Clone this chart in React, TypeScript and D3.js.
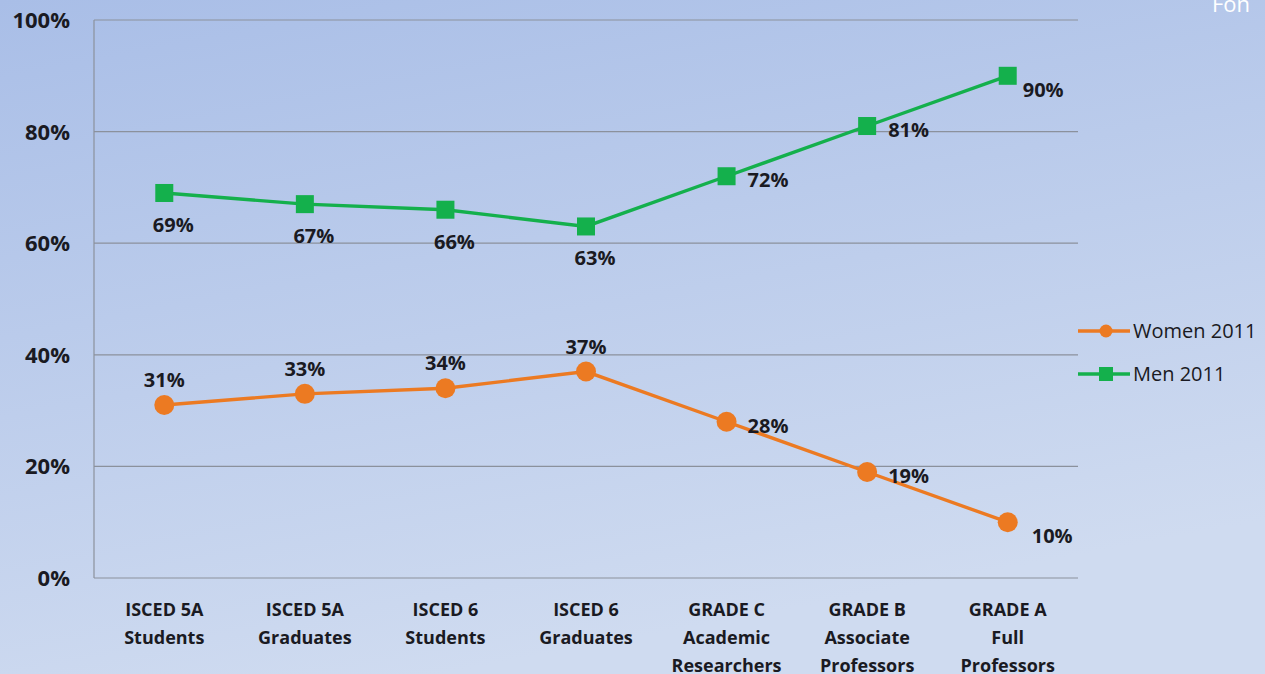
import React from "react";
import * as d3 from "d3";

const categories = [
  ["ISCED 5A", "Students"],
  ["ISCED 5A", "Graduates"],
  ["ISCED 6", "Students"],
  ["ISCED 6", "Graduates"],
  ["GRADE C", "Academic", "Researchers"],
  ["GRADE B", "Associate", "Professors"],
  ["GRADE A", "Full", "Professors"],
];
const women2011 = [31, 33, 34, 37, 28, 19, 10];
const men2011 = [69, 67, 66, 63, 72, 81, 90];
const yTicks = [0, 20, 40, 60, 80, 100];
// label placement per point
const womenLabelPos = ["above", "above", "above", "above", "right", "right", "rightBelowFar"];
const menLabelPos = ["below", "below", "below", "below", "right", "right", "rightBelow"];

const W = 1265, H = 674;
const ORANGE = "#ec7a22";
const GREEN = "#14b04c";
const FONT = "'Open Sans', 'Noto Sans', sans-serif";
const INK = "#1a1a22";

export default function App() {
  const x = d3.scaleBand<number>().domain(d3.range(categories.length)).range([94, 1078]);
  const y = d3.scaleLinear().domain([0, 100]).range([578, 20]);
  const cx = (i: number) => (x(i) as number) + x.bandwidth() / 2;
  const line = d3.line<number>().x((_, i) => cx(i)).y((v) => y(v));

  const labelXY = (pos: string, i: number, v: number) => {
    const px = cx(i), py = y(v);
    if (pos === "above") return { x: px, y: py - 18, anchor: "middle" };
    if (pos === "below") return { x: px + 9, y: py + 39, anchor: "middle" };
    if (pos === "right") return { x: px + 21, y: py + 11, anchor: "start" };
    if (pos === "rightBelow") return { x: px + 15, y: py + 21, anchor: "start" };
    return { x: px + 24, y: py + 21, anchor: "start" };
  };

  const renderLabels = (vals: number[], pos: string[]) =>
    vals.map((v, i) => {
      const p = labelXY(pos[i], i, v);
      return (
        <text key={i} x={p.x} y={p.y} textAnchor={p.anchor as any} fontFamily={FONT} fontWeight={700} fontSize={20} fill={INK}>
          {v}%
        </text>
      );
    });

  return (
    <svg width={W} height={H} style={{ position: "absolute", left: 0, top: 0 }}>
      <defs>
        <linearGradient id="bg" x1="0" y1="0" x2="0.35" y2="1">
          <stop offset="0%" stopColor="#a9bee7" />
          <stop offset="100%" stopColor="#cfdbf0" />
        </linearGradient>
      </defs>
      <rect x={0} y={0} width={W} height={H} fill="url(#bg)" />
      <text x={1212} y={12} fill="#ffffff" fontFamily={FONT} fontSize={22}>Fon</text>

      {yTicks.map((t) => (
        <g key={t}>
          <line x1={94} x2={1078} y1={y(t)} y2={y(t)} stroke="#8b919c" strokeWidth={1.2} />
          <text x={70} y={y(t) + 8} textAnchor="end" fontFamily={FONT} fontWeight={700} fontSize={22} fill={INK}>
            {t}%
          </text>
        </g>
      ))}
      <line x1={94} x2={94} y1={y(100)} y2={y(0)} stroke="#8b919c" strokeWidth={1.2} />

      {categories.map((lines, i) => (
        <text key={i} x={cx(i)} textAnchor="middle" fontFamily={FONT} fontWeight={700} fontSize={18} fill={INK}>
          {lines.map((l, j) => (
            <tspan key={j} x={cx(i)} y={616 + j * 28}>{l}</tspan>
          ))}
        </text>
      ))}

      <path d={line(women2011) || ""} fill="none" stroke={ORANGE} strokeWidth={3.4} />
      <path d={line(men2011) || ""} fill="none" stroke={GREEN} strokeWidth={3.4} />
      {women2011.map((v, i) => (
        <circle key={i} cx={cx(i)} cy={y(v)} r={10} fill={ORANGE} />
      ))}
      {men2011.map((v, i) => (
        <rect key={i} x={cx(i) - 9} y={y(v) - 9} width={18} height={18} fill={GREEN} />
      ))}

      {renderLabels(women2011, womenLabelPos)}
      {renderLabels(men2011, menLabelPos)}

      <g>
        <line x1={1078} x2={1130} y1={331} y2={331} stroke={ORANGE} strokeWidth={3.4} />
        <circle cx={1106} cy={331} r={6.5} fill={ORANGE} />
        <text x={1133} y={338} fontFamily={FONT} fontSize={20} fill={INK}>Women 2011</text>
        <line x1={1078} x2={1130} y1={374} y2={374} stroke={GREEN} strokeWidth={3.4} />
        <rect x={1099} y={367} width={14} height={14} fill={GREEN} />
        <text x={1133} y={381} fontFamily={FONT} fontSize={20} fill={INK}>Men 2011</text>
      </g>
    </svg>
  );
}
